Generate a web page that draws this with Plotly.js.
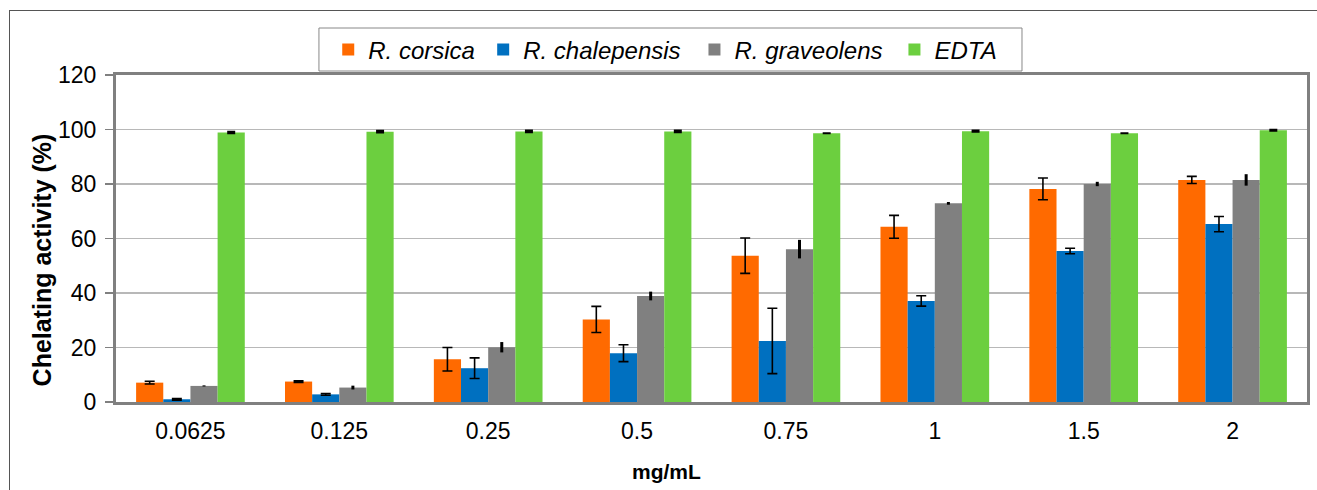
<!DOCTYPE html>
<html><head><meta charset="utf-8">
<script src="https://cdn.plot.ly/plotly-3.0.1.min.js"></script>
<style>
html,body{margin:0;padding:0;background:#fff;}
#frame{position:absolute;left:9px;top:10px;width:1308px;height:480px;border-top:1.5px solid #555;border-left:1.5px solid #555;}
#chart{position:absolute;left:0;top:0;width:1317px;height:490px;}
</style></head>
<body>
<div id="frame"></div>
<div id="chart"></div>
<script>
const categories = ['0.0625','0.125','0.25','0.5','0.75','1','1.5','2'];
const seriesNames = ['R. corsica','R. chalepensis','R. graveolens','EDTA'];
const corsica = [7.1, 7.5, 15.7, 30.3, 53.7, 64.3, 78.2, 81.5];
const corsicaErr = [0.5, 0.3, 4.3, 4.8, 6.5, 4.2, 4.0, 1.3];
const chalepensis = [1.0, 2.8, 12.4, 17.9, 22.4, 37.1, 55.4, 65.3];
const chalepensisErr = [0.3, 0.3, 3.8, 3.1, 12.0, 1.9, 1.0, 2.8];
const graveolens = [5.9, 5.3, 20.1, 38.9, 56.1, 72.9, 80.0, 81.5];
const graveolensErr = [0.2, 0.7, 1.9, 1.6, 3.4, 0.5, 0.8, 2.1];
const edta = [98.9, 99.2, 99.3, 99.3, 98.6, 99.4, 98.6, 99.7];
const edtaErr = [0.3, 0.3, 0.3, 0.3, 0, 0.2, 0, 0.2];
const xTitle = 'mg/mL';
const yTitle = 'Chelating activity (%)';
const colors = ['#ff6a00','#0070c0','#808080','#6ccf3f'];

const vals = [corsica, chalepensis, graveolens, edta];
const errs = [corsicaErr, chalepensisErr, graveolensErr, edtaErr];
const errStyle = [
  {thickness:1.6, width:5},
  {thickness:1.6, width:5},
  {thickness:3, width:0},
  {thickness:2, width:4}
];
const legendIds = ['legend','legend2','legend3','legend4'];
const legendX = [0.1782, 0.3083, 0.4857, 0.6536];
const traces = seriesNames.map((n,i)=>({
  type:'bar', name:n, x:categories, y:vals[i], legend:legendIds[i],
  marker:{color:colors[i]},
  error_y:{type:'data', array:errs[i], visible:true, color:'#000', thickness:errStyle[i].thickness, width:errStyle[i].width}
}));

const layout = {
  width:1317, height:490,
  paper_bgcolor:'rgba(0,0,0,0)', plot_bgcolor:'#fff',
  margin:{l:116, r:10, t:75, b:88},
  barmode:'group', bargap:0.27, bargroupgap:0,
  font:{family:'Liberation Sans, Arial, sans-serif', color:'#000'},
  showlegend:true,
  xaxis:{type:'category', showline:true, linecolor:'#808080', linewidth:3, mirror:true,
    tickfont:{size:23}, ticks:'', ticklabelstandoff:6},
  yaxis:{range:[0,120], dtick:20, showline:true, linecolor:'#808080', linewidth:3, mirror:true,
    gridcolor:'#b8b8b8', gridwidth:1.5, zeroline:false,
    ticks:'outside', ticklen:8, tickcolor:'#808080', tickwidth:1.5,
    tickfont:{size:23}, ticklabelstandoff:4},
  shapes:[
    {type:'rect', xref:'paper', yref:'paper', x0:0.1704, x1:0.7607, y0:1.0122, y1:1.1437,
     line:{color:'#888', width:1}, fillcolor:'#fff', layer:'below'}
  ],
  annotations:[
    {text:'<b>'+xTitle+'</b>', xref:'paper', yref:'paper', x:0.4626, y:0, xanchor:'center', yanchor:'middle',
     yshift:-69, showarrow:false, font:{size:21}},
    {text:'<b>'+yTitle+'</b>', xref:'paper', yref:'paper', x:0, y:0.433, xanchor:'center', yanchor:'middle',
     xshift:-74, textangle:-90, showarrow:false, font:{size:25}}
  ]
};
legendIds.forEach((id,i)=>{
  layout[id] = {orientation:'h', x:legendX[i], xanchor:'left', y:1.0765, yanchor:'middle',
    borderwidth:0, bgcolor:'rgba(0,0,0,0)',
    font:{size:24, family:'Liberation Sans, Arial, sans-serif', style:'italic'}};
});
Plotly.newPlot('chart', traces, layout, {displayModeBar:false, staticPlot:true}).then(()=>{
  document.querySelectorAll('.legendtext').forEach(t=>t.style.fontStyle='italic');
});
</script>
</body></html>
